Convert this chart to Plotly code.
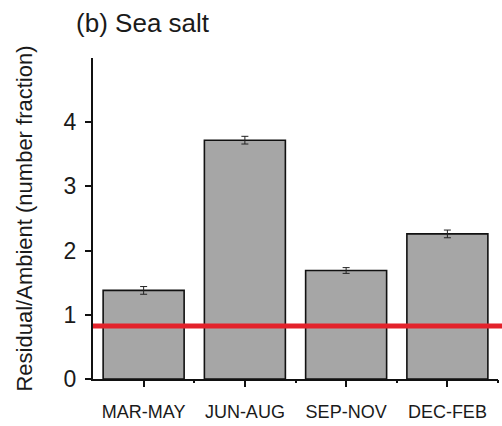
import plotly.graph_objects as go

# Seasonal residual/ambient number-fraction ratios for sea salt
seasons = ["MAR-MAY", "JUN-AUG", "SEP-NOV", "DEC-FEB"]
ratio = [1.38, 3.72, 1.69, 2.26]
ratio_err = [0.06, 0.06, 0.045, 0.06]
reference_level = 0.825

FONT = "Liberation Sans, Arial, Helvetica, sans-serif"

fig = go.Figure()
fig.add_trace(go.Bar(
    x=seasons,
    y=ratio,
    width=0.8,
    marker=dict(color="#a6a6a6", line=dict(color="#111111", width=1.6)),
    error_y=dict(type="data", array=ratio_err, visible=True,
                 color="#222222", thickness=1, width=3.5),
    showlegend=False,
))

# invisible trace on an overlaid linear axis to carry the between-category ticks
fig.add_trace(go.Scatter(x=[0.5], y=[0], xaxis="x2", mode="markers",
                         marker=dict(opacity=0), showlegend=False,
                         hoverinfo="skip"))

fig.add_shape(type="line", xref="paper", yref="y",
              x0=0, x1=1.02, y0=reference_level, y1=reference_level,
              line=dict(color="#e3222b", width=5), layer="above")

fig.update_layout(
    width=502, height=426,
    margin=dict(l=93, r=4, t=58, b=47),
    paper_bgcolor="white", plot_bgcolor="white",
    font=dict(family=FONT, color="#1a1a1a"),
    bargap=0.2,
    title=dict(text="(b) Sea salt", font=dict(size=26, family=FONT),
               x=0.284, xref="container", xanchor="center",
               y=0.946, yref="container", yanchor="middle"),
    xaxis=dict(
        type="category", range=[-0.5, 3.5],
        showline=True, linecolor="#111111", linewidth=2,
        ticks="outside", ticklen=6, tickwidth=2, tickcolor="#111111",
        tickfont=dict(size=18), ticklabelstandoff=9,
        showgrid=False, zeroline=False,
    ),
    xaxis2=dict(
        overlaying="x", range=[-0.5, 3.5], side="bottom",
        tickvals=[0.5, 1.5, 2.5, 3.5], showticklabels=False,
        ticks="outside", ticklen=3, tickwidth=2, tickcolor="#111111",
        showgrid=False, zeroline=False, showline=False,
    ),
    yaxis=dict(
        range=[0, 5], tickvals=[0, 1, 2, 3, 4],
        showline=True, linecolor="#111111", linewidth=2,
        ticks="outside", ticklen=6, tickwidth=2, tickcolor="#111111",
        tickfont=dict(size=23), ticklabelstandoff=4,
        showgrid=False, zeroline=False,
        title=dict(text="Residual/Ambient (number fraction)",
                   font=dict(size=22), standoff=25),
    ),
)

fig.write_html("out.html")
